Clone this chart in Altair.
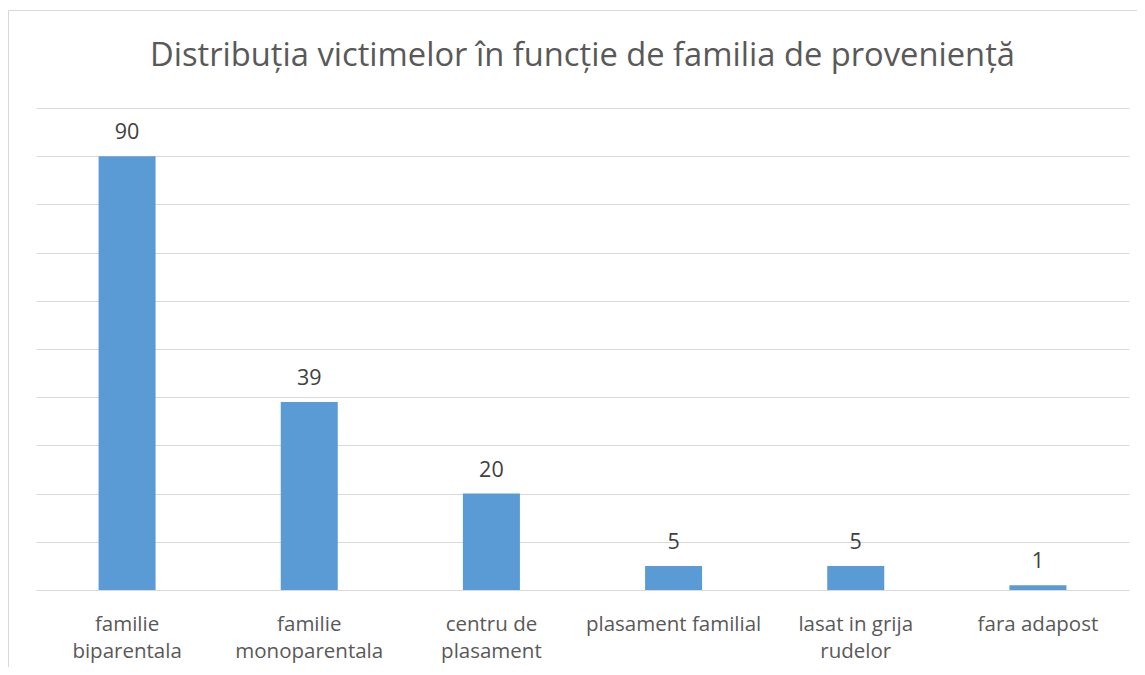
import altair as alt
import pandas as pd

categories = [
    "familie biparentala",
    "familie monoparentala",
    "centru de plasament",
    "plasament familial",
    "lasat in grija rudelor",
    "fara adapost",
]
values = [90, 39, 20, 5, 5, 1]
label_lines = {
    "familie biparentala": ["familie", "biparentala"],
    "familie monoparentala": ["familie", "monoparentala"],
    "centru de plasament": ["centru de", "plasament"],
    "plasament familial": ["plasament familial"],
    "lasat in grija rudelor": ["lasat in grija", "rudelor"],
    "fara adapost": ["fara adapost"],
}
title_text = "Distribuția victimelor în funcție de familia de proveniență"

df = pd.DataFrame({"cat": categories, "val": values})

FONT = "Open Sans"
W, H = 1093, 482

expr_parts = []
for k, v in label_lines.items():
    arr = "[" + ",".join("'" + s + "'" for s in v) + "]"
    expr_parts.append(f"datum.label == '{k}' ? {arr} : ")
label_expr = "".join(expr_parts) + "datum.label"

x = alt.X(
    "cat:N",
    sort=categories,
    title=None,
    scale=alt.Scale(paddingInner=0.687, paddingOuter=0.3435),
    axis=alt.Axis(
        labelAngle=0,
        labelExpr=label_expr,
        labelFont=FONT,
        labelFontSize=20.5,
        labelColor="#595959",
        labelLineHeight=27,
        labelBaseline="alphabetic",
        labelPadding=40,
        ticks=False,
        domain=True,
        domainColor="#D9D9D9",
        domainWidth=1,
        grid=False,
        labelLimit=300,
    ),
)
y = alt.Y(
    "val:Q",
    title=None,
    scale=alt.Scale(domain=[0, 100], nice=False),
    axis=alt.Axis(
        values=list(range(0, 101, 10)),
        labels=False,
        ticks=False,
        domain=False,
        grid=True,
        gridColor="#D9D9D9",
        gridWidth=1,
    ),
)

base = alt.Chart(df)
bars = base.mark_bar(color="#5B9BD5").encode(x=x, y=y)
text = base.mark_text(
    font=FONT, fontSize=21.5, color="#404040", baseline="alphabetic", dy=-17
).encode(x=alt.X("cat:N", sort=categories), y="val:Q", text="val:Q")

frame = alt.Chart(pd.DataFrame({"a": [0]})).mark_rect(
    fill=None, stroke="#D9D9D9", strokeWidth=1
).encode(
    x=alt.value(-27.5), x2=alt.value(W + 60), y=alt.value(-97.5), y2=alt.value(H + 150)
)

title = alt.Chart(pd.DataFrame({"t": [title_text]})).mark_text(
    font=FONT, fontSize=32.7, color="#595959", align="center", baseline="alphabetic"
).encode(x=alt.value(W / 2), y=alt.value(-42), text="t:N")

chart = alt.layer(frame, bars, text, title).properties(
    width=W,
    height=H,
    background="white",
    autosize=alt.AutoSizeParams(type="none"),
    padding={"left": 28, "top": 100, "right": 8, "bottom": 77},
).configure_view(strokeWidth=0)

chart.save("out.html", embed_options={"renderer": "svg", "actions": False})
